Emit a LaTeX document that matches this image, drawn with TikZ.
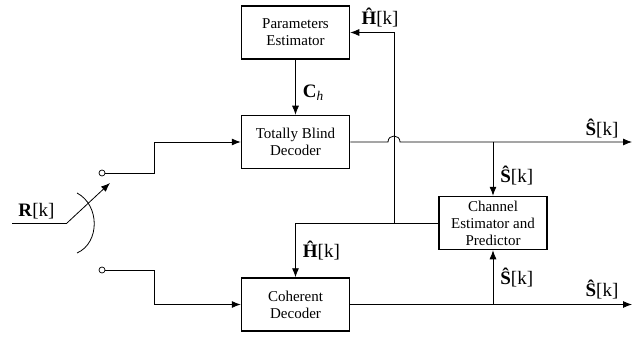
\documentclass[tikz,border=0pt]{standalone}
\usepackage{fontspec}
\setmainfont{Liberation Serif}
\usetikzlibrary{arrows.meta,positioning,calc}

\begin{document}
\begin{tikzpicture}[x=1pt, y=-1pt, >={Latex[length=9pt,width=7pt]}, line width=0.8pt,
  blk/.style={draw, line width=1.5pt, minimum width=108pt, minimum height=53pt,
    inner sep=1pt, align=center, font=\fontsize{15}{17}\selectfont},
  lbl/.style={font=\fontsize{19}{22}\selectfont, inner sep=1pt},
  term/.style={circle, draw, line width=0.7pt, inner sep=0pt, minimum size=6pt, fill=white}]
  \useasboundingbox (0,0) rectangle (644,339);

  % blocks
  \node[blk] (pe)  at (295.5,32.5)  {Parameters\\Estimator};
  \node[blk] (tbd) at (295.5,142)   {Totally Blind\\Decoder};
  \node[blk] (cd)  at (295.5,304.5) {Coherent\\Decoder};
  \node[blk] (ce)  at (493,223)     {Channel\\Estimator and\\Predictor};

  % switch
  \coordinate (in) at (12,223);
  \coordinate (piv) at (67,223);
  \coordinate (tip) at (110,183);
  \node[term] (t1) at (102,173) {};
  \node[term] (t2) at (102,270) {};
  \draw (in) -- (piv) node[lbl, midway, above=3pt, xshift=-3pt] {\textbf{R}[k]};
  \draw[->] (piv) -- (tip);
  \draw (77,193) .. controls (100,205) and (100,243) .. (77,253);
  \draw[->] (t1.east) -- (154,173) |- (tbd.west);
  \draw[->] (t2.east) -- (154,270) |- (cd.west);

  % parameters to blind decoder
  \draw[->] (pe.south) -- (tbd.north)
    node[lbl, pos=0.6, right=6pt] {\textbf{C}\textsubscript{\textit{h}}};

  % outputs
  \coordinate (o1) at (632,142);
  \coordinate (o2) at (632,304.5);
  \coordinate (fb) at (394,223);
  \draw[->] (tbd.east) -- (388,142) .. controls (388,134) and (400,134) .. (400,142) -- (o1);
  \node[lbl] (s1) at (602,129) {\textbf{Ŝ}[k]};
  \draw[->] (cd.east) -- (o2);
  \node[lbl] (s2) at (602,290) {\textbf{Ŝ}[k]};
  \draw[->] (ce.north |- o1) -- (ce.north)
    node[lbl, pos=0.62, right=6pt] {\textbf{Ŝ}[k]};
  \draw[->] (ce.south |- o2) -- (ce.south)
    node[lbl, pos=0.5, right=6pt] {\textbf{Ŝ}[k]};

  % channel feedback
  \draw[->] (ce.west) -- (fb) |- (pe.east);
  \node[lbl] (h1) at (380,18) {\textbf{Ĥ}[k]};
  \draw[->] (fb) -| (cd.north)
    node[lbl, pos=0.75, right=6pt] {\textbf{Ĥ}[k]};
\end{tikzpicture}
\end{document}
